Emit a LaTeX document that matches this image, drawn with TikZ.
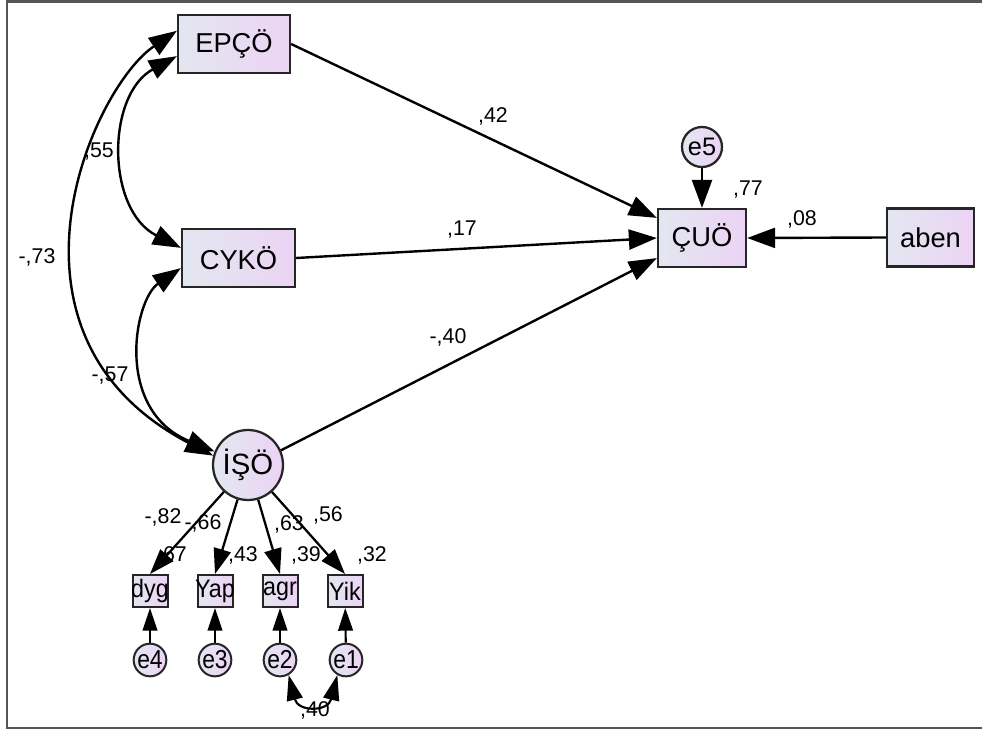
\documentclass[tikz,border=0pt]{standalone}
\usepackage{fontspec}
\setmainfont{Liberation Sans}
\usetikzlibrary{arrows.meta}
\definecolor{fillA}{HTML}{E3E7F1}
\definecolor{fillB}{HTML}{ECD3F4}
\definecolor{framegray}{HTML}{555555}
\begin{document}
\begin{tikzpicture}[x=0.75pt,y=-0.75pt,
  obs/.style={draw=black!85, line width=1.7pt, left color=fillA, right color=fillB, inner sep=0pt,
              minimum height=43.5pt, font=\fontsize{20.5}{21}\selectfont},
  lat/.style={circle, draw=black!85, line width=1.7pt, left color=fillA, right color=fillB, inner sep=0pt},
  ind/.style={draw=black!85, line width=1.5pt, left color=fillA, right color=fillB, inner sep=0pt,
              minimum width=26.25pt, minimum height=24pt, font=\fontsize{19}{19}\selectfont},
  err/.style={circle, draw=black!85, line width=1.5pt, left color=fillA, right color=fillB, inner sep=0pt,
              minimum size=24.5pt, font=\fontsize{19.5}{19.5}\selectfont},
  lab/.style={inner sep=0pt, font=\fontsize{16}{16}\selectfont},
  big/.style={line width=1.8pt, -{Triangle[length=21pt,width=15pt]}},
  bigboth/.style={line width=1.8pt, {Triangle[length=21pt,width=15pt]}-{Triangle[length=21pt,width=15pt]}},
  mid/.style={line width=1.7pt, -{Triangle[length=19pt,width=13pt]}},
  small/.style={line width=1.6pt, -{Triangle[length=17pt,width=11pt]}},
  smallboth/.style={line width=1.6pt, {Triangle[length=19pt,width=12pt]}-{Triangle[length=19pt,width=12pt]}}
]
\useasboundingbox (0,0) rectangle (982,731);
% frame
\draw[framegray, line width=1.6pt] (982,1.5) -- (7,1.5) -- (7,728) -- (982,728);

% labels (drawn first so arrows overlay)
\node[lab] (l42) at (493,116) {,42};
\node[lab] (l17) at (462,230) {,17};
\node[lab] (l40) at (448,337) {-,40};
\node[lab] (l77) at (748,190) {,77};
\node[lab] (l08) at (802,219) {,08};
\node[lab] (l55) at (99,152) {,55};
\node[lab] (l73) at (37,257) {-,73};
\node[lab] (l57) at (110,376) {-,57};
\node[lab] (l82) at (163,517) {-,82};
\node[lab] (l66) at (203,523) {-,66};
\node[lab] (l63) at (289,524) {,63};
\node[lab] (l56) at (328,515) {,56};
\node[lab] (r67) at (172,555) {,67};
\node[lab] (r43) at (243,555) {,43};
\node[lab] (r39) at (306,555) {,39};
\node[lab] (r32) at (372,555) {,32};
\node[lab] (c40) at (315,710) {,40};

% nodes
\node[obs, minimum width=84pt] (epco) at (234,44) {EPÇÖ};
\node[obs, minimum width=84.75pt] (cyko) at (238.5,258) {CYKÖ};
\node[obs, minimum width=66pt] (cuo) at (702,238) {ÇUÖ};
\node[obs, minimum width=65.25pt] (aben) at (930.5,237.5) {aben};
\node[lat, minimum size=30pt, font=\fontsize{19}{19}\selectfont] (e5) at (702,147) {e5};
\node[lat, minimum size=52.5pt, font=\fontsize{22}{22}\selectfont] (isoe) at (248,465) {İŞÖ};

\node[ind] (dyg) at (150,591) {\makebox[0pt]{\scalebox{0.92}[1]{dyg}}};
\node[ind] (yap) at (215,591) {\makebox[0pt]{\scalebox{0.92}[1]{Yap}}};
\node[ind] (agr) at (280,591) {\makebox[0pt]{\scalebox{0.92}[1]{agr}}};
\node[ind] (yik) at (345,591) {\makebox[0pt]{\scalebox{0.92}[1]{Yik}}};

\node[err] (e4) at (150,660) {\makebox[0pt]{\scalebox{0.88}[1]{e4}}};
\node[err] (e3) at (215,660) {\makebox[0pt]{\scalebox{0.88}[1]{e3}}};
\node[err] (e2) at (280,660) {\makebox[0pt]{\scalebox{0.88}[1]{e2}}};
\node[err] (e1) at (346,660) {\makebox[0pt]{\scalebox{0.88}[1]{e1}}};

% regression paths
\draw[big] (epco.east) -- (cuo.156);
\draw[big] (cyko.east) -- (cuo.west);
\draw[big] (isoe.24) -- (cuo.204);
\draw[big] (e5) -- (cuo.north);
\draw[big] (aben.west) -- (cuo.east);

% covariances
\draw[bigboth] (epco.192) .. controls (106,95) and (106,210) .. (cyko.170);
\draw[bigboth] (epco.167) .. controls (92,88) and (-18,335) .. (isoe.165);
\draw[bigboth] (cyko.190) .. controls (134,300) and (114,410) .. (isoe.158);

% measurement
\draw[mid] (isoe) -- (dyg.north);
\draw[mid] (isoe) -- (yap.north);
\draw[mid] (isoe) -- (agr.north);
\draw[mid] (isoe) -- (yik.north);

\draw[small] (e4) -- (dyg);
\draw[small] (e3) -- (yap);
\draw[small] (e2) -- (agr);
\draw[small] (e1) -- (yik);

\draw[smallboth] (e2.-60) .. controls (298,712) and (328,712) .. (e1.-120);
\end{tikzpicture}
\end{document}
